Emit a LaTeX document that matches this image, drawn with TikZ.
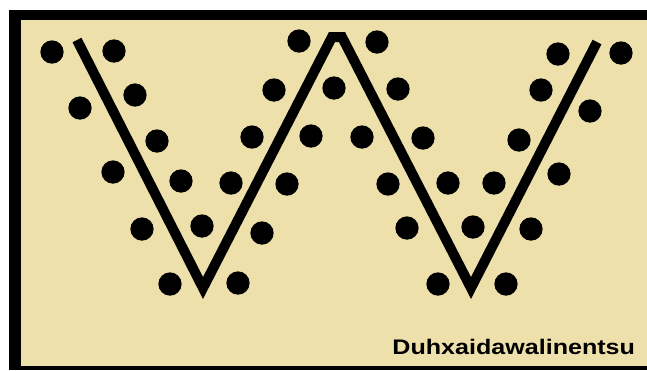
\documentclass[tikz,border=0pt]{standalone}
\usepackage{fontspec}
\setsansfont{Liberation Sans}
\definecolor{paper}{RGB}{237,224,170}
\tikzset{
  zigzag/.style={line width=0.2cm, line join=miter, line cap=butt},
  dot/.style={fill=black},
  signature/.style={font=\sffamily\bfseries\fontsize{12}{14}\selectfont, inner sep=0pt, anchor=base west, xscale=1.19}
}
\begin{document}
\begin{tikzpicture}[x=0.02cm, y=-0.02cm]
    \fill[white] (0,0) rectangle (647,370);
    \fill[black] (9,10) rectangle (647,370);
    \fill[paper] (21,20) rectangle (647,366);

    % zigzag
    \coordinate (start) at (77,40);
    \coordinate (low1) at (203,288);
    \coordinate (peakL) at (332,37);
    \coordinate (peakR) at (342,37);
    \coordinate (low2) at (471,288);
    \coordinate (end) at (597,42);
    \draw[zigzag] (start) -- (low1) -- (peakL) -- (peakR) -- (low2) -- (end);

    % dots
    \foreach \x/\y in {52/52, 114/51, 80/108, 135/95, 157/141, 113/172, 181/181,
        142/229, 202/226, 170/284, 238/283, 231/183, 262/233, 287/184, 252/137,
        311/136, 274/90, 334/88, 299/41, 377/42, 398/89, 362/137, 423/138,
        388/184, 448/183, 407/228, 473/227, 438/284, 506/284, 494/183, 531/229,
        519/140, 559/174, 541/90, 590/111, 558/54, 621/53}
        \fill[dot] (\x,\y) circle (0.233cm);

    \node[signature] (name) at (392,354) {Duhxaidawalinentsu};
\end{tikzpicture}
\end{document}
